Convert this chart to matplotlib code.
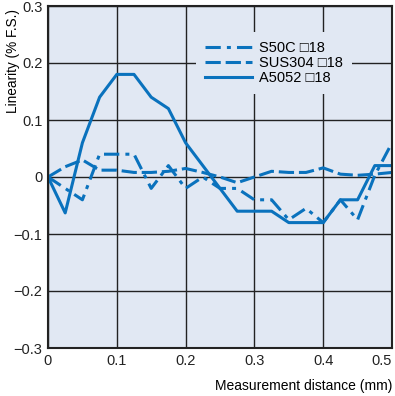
import matplotlib
matplotlib.use('Agg')
import matplotlib.pyplot as plt

plt.rcParams['font.family'] = ['Liberation Sans', 'DejaVu Sans']

# データ
x_mm = [0, 0.025, 0.05, 0.075, 0.1, 0.125, 0.15, 0.175, 0.2, 0.225, 0.25,
        0.275, 0.3, 0.325, 0.35, 0.375, 0.4, 0.425, 0.45, 0.475, 0.5]
s50c = [0, -0.02, -0.04, 0.04, 0.04, 0.04, -0.02, 0.02, -0.02, 0.0, -0.02,
        -0.02, -0.04, -0.04, -0.075, -0.055, -0.08, -0.04, -0.075, 0.003, 0.06]
sus304 = [0, 0.018, 0.03, 0.012, 0.012, 0.008, 0.008, 0.01, 0.015, 0.008, 0.0,
          -0.01, 0.0, 0.01, 0.008, 0.008, 0.016, 0.005, 0.003, 0.005, 0.008]
a5052 = [0, -0.063, 0.06, 0.14, 0.18, 0.18, 0.14, 0.12, 0.06, 0.02, -0.02,
         -0.06, -0.06, -0.06, -0.08, -0.08, -0.08, -0.04, -0.04, 0.02, 0.02]
labels = ['S50C \u25a118', 'SUS304 \u25a118', 'A5052 \u25a118']

line_color = '#0a72bd'
bg_color = '#e1e8f3'

fig = plt.figure(figsize=(3.95, 3.96), dpi=100)
ax = fig.add_axes([48 / 395, 1 - 348 / 396, 344 / 395, 342 / 396])
ax.set_facecolor(bg_color)

ax.plot(x_mm, s50c, color=line_color, linewidth=2.2, linestyle=(0, (5, 2, 1.3, 2)), label=labels[0])
ax.plot(x_mm, sus304, color=line_color, linewidth=2.2, linestyle=(0, (5, 1.6)), label=labels[1])
ax.plot(x_mm, a5052, color=line_color, linewidth=2.2, linestyle='-', label=labels[2])

ax.set_xlim(0, 0.5)
ax.set_ylim(-0.3, 0.3)
ax.set_xticks([0, 0.1, 0.2, 0.3, 0.4, 0.5])
ax.set_xticklabels(['0', '0.1', '0.2', '0.3', '0.4', '0.5'])
ax.set_yticks([-0.3, -0.2, -0.1, 0, 0.1, 0.2, 0.3])
ax.set_yticklabels(['\u22120.3', '\u22120.2', '\u22120.1', '0', '0.1', '0.2', '0.3'])
ax.tick_params(length=0, labelsize=10.5, pad=4, colors='#222222')
# 右端の目盛りラベルは枠内に収める
ax.get_xticklabels()[-1].set_horizontalalignment('right')
ax.grid(True, color='#222222', linewidth=1.0)
ax.set_axisbelow(True)
for sp in ax.spines.values():
    sp.set_linewidth(1.5)
    sp.set_color('#222222')

ax.set_ylabel('Linearity (% F.S.)', fontsize=9.8)
ax.yaxis.set_label_coords(-0.08, 0.84)
ax.set_xlabel('Measurement distance (mm)', fontsize=10, ha='right', va='center')
ax.xaxis.set_label_coords(1.0, -0.11)

leg = ax.legend(loc='upper left', bbox_to_anchor=(0.41, 0.945), fontsize=10.5,
                handlelength=3.2, handletextpad=0.5, labelspacing=0.09,
                borderpad=0.6, facecolor=bg_color, edgecolor='none', framealpha=1,
                fancybox=False)

fig.savefig('out.png', dpi=100)
